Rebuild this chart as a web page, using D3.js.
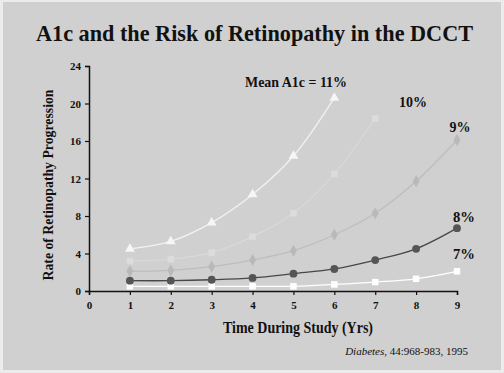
<!DOCTYPE html>
<html>
<head>
<meta charset="utf-8">
<script src="https://cdn.jsdelivr.net/npm/d3@7"></script>
<style>
  html, body { margin: 0; padding: 0; background: #ececec; }
  svg { display: block; }
  text { font-family: "Liberation Serif", "Times New Roman", serif; }
</style>
</head>
<body>
<svg id="chart" width="504" height="373"></svg>
<script>
"use strict";

// data
var years = [1, 2, 3, 4, 5, 6, 7, 8, 9];
var a1c_11 = [4.5, 5.3, 7.3, 10.3, 14.4, 20.6];
var a1c_10 = [3.2, 3.4, 4.1, 5.8, 8.3, 12.5, 18.4];
var a1c_9 = [2.1, 2.2, 2.6, 3.3, 4.3, 6.0, 8.3, 11.7, 16.1];
var a1c_8 = [1.1, 1.1, 1.2, 1.4, 1.85, 2.35, 3.3, 4.5, 6.7];
var a1c_7 = [0.5, 0.5, 0.5, 0.5, 0.5, 0.7, 0.95, 1.3, 2.1];
var x_ticks = [0, 1, 2, 3, 4, 5, 6, 7, 8, 9];
var y_ticks = [0, 4, 8, 12, 16, 20, 24];

var series = [
  {name: "7%", values: a1c_7, line: "#ffffff", fill: "#ffffff", shape: d3.symbolSquare, size: 42},
  {name: "8%", values: a1c_8, line: "#474747", fill: "#555555", shape: d3.symbolCircle, size: 48},
  {name: "9%", values: a1c_9, line: "#bdbdbd", fill: "#b9b9b9", shape: d3.symbolDiamond, size: 42},
  {name: "10%", values: a1c_10, line: "#d9d9d9", fill: "#dcdcdc", shape: d3.symbolSquare, size: 42},
  {name: "Mean A1c = 11%", values: a1c_11, line: "#f2f2f2", fill: "#f6f6f6", shape: d3.symbolTriangle, size: 42}
];

var svg = d3.select("#chart");

// slide background
svg.append("rect")
  .attr("x", 3).attr("y", 2)
  .attr("width", 498).attr("height", 368)
  .attr("fill", "#d0d0d0");

svg.append("text")
  .attr("x", 254.5).attr("y", 41)
  .attr("text-anchor", "middle")
  .attr("font-size", 23)
  .attr("font-weight", "bold")
  .attr("fill", "#111")
  .attr("textLength", 437)
  .attr("lengthAdjust", "spacingAndGlyphs")
  .text("A1c and the Risk of Retinopathy in the DCCT");

var x = d3.scaleLinear().domain([0, 9]).range([89, 457]);
var y = d3.scaleLinear().domain([0, 24]).range([291, 66]);

// axes
var xAxis = svg.append("g")
  .attr("transform", "translate(0," + y(0) + ")")
  .call(d3.axisBottom(x).tickValues(x_ticks).tickSize(4).tickPadding(6));
var yAxis = svg.append("g")
  .attr("transform", "translate(" + x(0) + ",0)")
  .call(d3.axisLeft(y).tickValues(y_ticks).tickSize(4).tickPadding(4));

[xAxis, yAxis].forEach(function(g){
  g.select(".domain").attr("stroke", "#111").attr("stroke-width", 1.5);
  g.selectAll(".tick line").attr("stroke", "#111").attr("stroke-width", 1.2);
  g.selectAll(".tick text")
    .attr("fill", "#111")
    .attr("font-family", "Liberation Serif")
    .attr("font-size", 11)
    .attr("font-weight", "bold");
});

// lines + markers
var line = d3.line()
  .x(function(d, i) {return x(years[i]);})
  .y(function(d) {return y(d);})
  .curve(d3.curveCatmullRom.alpha(0.5));

series.forEach(function(s){
  svg.append("path")
    .attr("d", line(s.values))
    .attr("fill", "none")
    .attr("stroke", s.line)
    .attr("stroke-width", 1.3);

  svg.selectAll(null)
    .data(s.values)
    .enter()
    .append("path")
    .attr("transform", function(d, i) {return "translate(" + x(years[i]) + "," + y(d) + ")";})
    .attr("d", d3.symbol().type(s.shape).size(s.size))
    .attr("fill", s.fill);
});

// series labels
var labels = [
  {text: "Mean A1c = 11%", x: 296, y: 87, size: 14.5, len: 102},
  {text: "10%", x: 413, y: 107, size: 15, len: 28},
  {text: "9%", x: 460, y: 132, size: 15, len: 21},
  {text: "8%", x: 464, y: 222, size: 15, len: 22},
  {text: "7%", x: 464, y: 259, size: 15, len: 22}
];
svg.selectAll(".slabel")
  .data(labels)
  .enter()
  .append("text")
  .attr("class", "slabel")
  .attr("x", function(d) {return d.x;})
  .attr("y", function(d) {return d.y;})
  .attr("text-anchor", "middle")
  .attr("font-size", function(d) {return d.size;})
  .attr("font-weight", "bold")
  .attr("fill", "#111")
  .attr("textLength", function(d) {return d.len;})
  .attr("lengthAdjust", "spacingAndGlyphs")
  .text(function(d) {return d.text;});

// axis titles
svg.append("text")
  .attr("x", 298).attr("y", 333)
  .attr("text-anchor", "middle")
  .attr("font-size", 16)
  .attr("font-weight", "bold")
  .attr("fill", "#111")
  .attr("textLength", 150)
  .attr("lengthAdjust", "spacingAndGlyphs")
  .text("Time During Study (Yrs)");

svg.append("text")
  .attr("transform", "translate(53,185) rotate(-90)")
  .attr("text-anchor", "middle")
  .attr("font-size", 15)
  .attr("font-weight", "bold")
  .attr("fill", "#111")
  .attr("textLength", 191)
  .attr("lengthAdjust", "spacingAndGlyphs")
  .text("Rate of Retinopathy Progression");

// citation
var cite = svg.append("text")
  .attr("x", 468).attr("y", 355)
  .attr("text-anchor", "end")
  .attr("font-size", 11)
  .attr("fill", "#111");
cite.append("tspan").attr("font-style", "italic").text("Diabetes");
cite.append("tspan").text(", 44:968-983, 1995");
</script>
</body>
</html>
